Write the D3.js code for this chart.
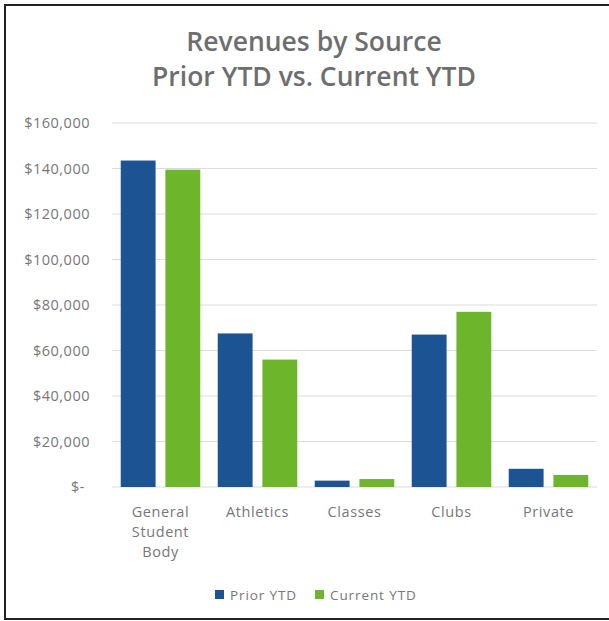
<!DOCTYPE html>
<html>
<head>
<meta charset="utf-8">
<script src="https://cdn.jsdelivr.net/npm/d3@7"></script>
<style>
  body { margin: 0; background: #fff; }
  text { font-family: "Open Sans", sans-serif; }
</style>
</head>
<body>
<svg width="609" height="621"></svg>
<script>
// chart data
var categories = ["General Student Body", "Athletics", "Classes", "Clubs", "Private"];
var catLines = [["General", "Student", "Body"], ["Athletics"], ["Classes"], ["Clubs"], ["Private"]];
var seriesNames = ["Prior YTD", "Current YTD"];
var priorYTD = [143500, 67500, 2800, 67000, 8000];
var currentYTD = [139500, 56000, 3500, 77000, 5300];
var yTicks = [0, 20000, 40000, 60000, 80000, 100000, 120000, 140000, 160000];
var colors = ["#1c5393", "#6db52b"];

var svg = d3.select("svg");

// frame around the chart
svg.append("rect")
  .attr("x", 5).attr("y", 5)
  .attr("width", 620).attr("height", 614)
  .attr("fill", "none")
  .attr("stroke", "#222")
  .attr("stroke-width", 2);

// title
var title = svg.append("text")
  .attr("text-anchor", "middle")
  .attr("fill", "#6e6e6e")
  .attr("font-size", 26.5)
  .attr("font-weight", 600);
title.append("tspan").attr("x", 314).attr("y", 51).text("Revenues by Source");
title.append("tspan").attr("x", 314).attr("y", 86).text("Prior YTD vs. Current YTD");

var y = d3.scaleLinear().domain([0, 160000]).range([487, 123]);
var x0 = d3.scaleBand().domain(categories).range([112, 597])
  .paddingInner(0.18).paddingOuter(0.09);
var x1 = d3.scaleBand().domain(seriesNames).range([0, x0.bandwidth()])
  .paddingInner(0.22);

// gridlines
svg.append("g").selectAll("line")
  .data(yTicks)
  .enter().append("line")
  .attr("x1", 112).attr("x2", 597)
  .attr("y1", function(d) { return y(d); })
  .attr("y2", function(d) { return y(d); })
  .attr("stroke", "#dcdcdc")
  .attr("stroke-width", 1);

// y axis labels
var fmt = d3.format(",");
svg.append("g").selectAll("text")
  .data(yTicks)
  .enter().append("text")
  .attr("x", function(d) { return d === 0 ? 85 : 90; })
  .attr("y", function(d) { return y(d); })
  .attr("dy", "0.35em")
  .attr("text-anchor", "end")
  .attr("font-size", 14.5)
  .attr("letter-spacing", 0.5)
  .attr("fill", "#777")
  .text(function(d) { return d === 0 ? "$-" : "$" + fmt(d); });

// bars
var rows = categories.map(function(c, i) {
  return { cat: c, values: [priorYTD[i], currentYTD[i]] };
});
var groups = svg.append("g").selectAll("g")
  .data(rows)
  .enter().append("g")
  .attr("transform", function(d) { return "translate(" + x0(d.cat) + ",0)"; });
groups.selectAll("rect")
  .data(function(d) { return d.values.map(function(v, j) { return { s: seriesNames[j], v: v, j: j }; }); })
  .enter().append("rect")
  .attr("x", function(d) { return x1(d.s); })
  .attr("width", x1.bandwidth())
  .attr("y", function(d) { return y(d.v); })
  .attr("height", function(d) { return y(0) - y(d.v); })
  .attr("fill", function(d) { return colors[d.j]; });

// category labels
var labels = svg.append("g").selectAll("text")
  .data(categories)
  .enter().append("text")
  .attr("text-anchor", "middle")
  .attr("font-size", 14.5)
  .attr("letter-spacing", 0.6)
  .attr("fill", "#777");
labels.each(function(d, i) {
  var t = d3.select(this);
  catLines[i].forEach(function(line, k) {
    t.append("tspan")
      .attr("x", x0(d) + x0.bandwidth() / 2)
      .attr("y", 517 + k * 20)
      .text(line);
  });
});

// legend
var legendX = [215, 315];
var legend = svg.append("g").selectAll("g")
  .data(seriesNames)
  .enter().append("g")
  .attr("transform", function(d, i) { return "translate(" + legendX[i] + ",590)"; });
legend.append("rect")
  .attr("width", 9).attr("height", 9)
  .attr("fill", function(d, i) { return colors[i]; });
legend.append("text")
  .attr("x", 15).attr("y", 9.5)
  .attr("font-size", 13.5)
  .attr("letter-spacing", 0.9)
  .attr("fill", "#777")
  .text(function(d) { return d; });
</script>
</body>
</html>
